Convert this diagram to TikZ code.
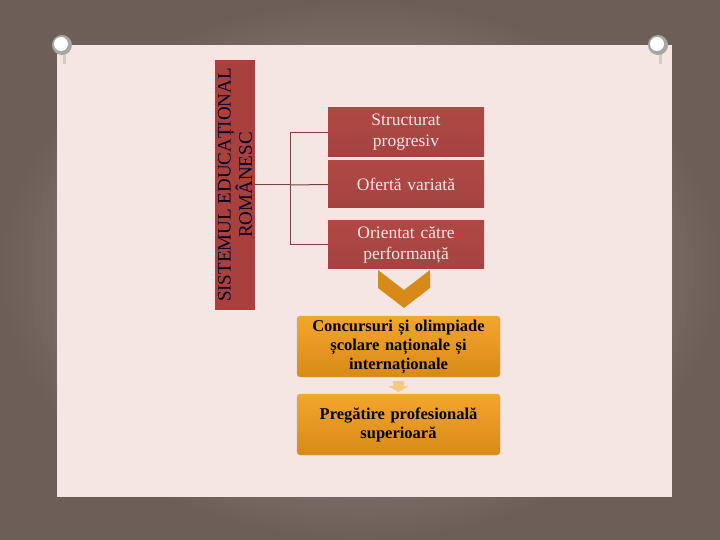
\documentclass[tikz,border=0pt]{standalone}
\usepackage{fontspec}
\setmainfont{Liberation Serif}
\usetikzlibrary{shapes.geometric}
\definecolor{paper}{HTML}{F5E6E4}
\definecolor{frame}{HTML}{6E5E58}
\definecolor{redbox}{HTML}{C0504D}
\definecolor{redtop}{HTML}{B04845}
\definecolor{vbox}{HTML}{A8413E}
\definecolor{line}{HTML}{7A4240}
\definecolor{orangeA}{HTML}{F4A52C}
\definecolor{orangeB}{HTML}{D88A18}
\begin{document}
\begin{tikzpicture}[x=1pt,y=-1pt,
  rbox/.style={draw=none,top color=redtop,bottom color=redbox!85!black,minimum width=156pt,text width=154pt,align=center,text=paper,font=\fontsize{17.5}{21}\selectfont,inner sep=0pt},
  obox/.style={draw=orangeB!70!black!50,rounded corners=3pt,top color=orangeA,bottom color=orangeB,minimum width=203pt,minimum height=61pt,text width=200pt,align=center,font=\bfseries\fontsize{16.5}{19}\selectfont,inner sep=0pt},
  conn/.style={draw=line,line width=1pt}]
\useasboundingbox (0,0) rectangle (720,540);
\shade[inner color=frame!55,outer color=frame] (0,0) rectangle (720,540);
\fill[paper] (57,45) rectangle (672,497);
\foreach \px in {62,658}{
  \fill[gray!40] (\px+1,48) rectangle (\px+4,64);
  \fill[gray!70] (\px,45) circle (10pt);
  \fill[white] (\px-1,44) circle (7pt);
}
\node[fill=vbox,minimum width=40pt,minimum height=250pt,inner sep=0pt] (v) at (235,185) {};
\node[rotate=90,align=center,text=black!85!blue,font=\fontsize{19}{18}\selectfont] at (v.center) {SISTEMUL EDUCAȚIONAL\\ROMÂNESC};
\node[rbox,minimum height=49pt] (b1) at (406,132.5) {Structurat\\progresiv};
\node[rbox,minimum height=47pt] (b2) at (406,184.5) {Ofertă variată};
\node[rbox,minimum height=47pt] (b3) at (406,244.5) {Orientat către\\performanță};
\coordinate (j) at (290,185);
\draw[conn] (v.east |- j) -- (j);
\draw[conn] (b1.west) -| (j);
\draw[conn] (b3.west) -| (j);
\draw[conn] (b2.west) -- (j);
\fill[orangeB] (378,270) -- (404,290) -- (430,270) -- (430,288) -- (404,308) -- (378,288) -- cycle;
\node[obox] (o1) at (398.5,346.5) {Concursuri și olimpiade\\școlare naționale și\\internaționale};
\node[obox] (o2) at (398.5,424.5) {Pregătire profesională\\superioară};
\fill[orangeA!60] (393,381) -- (404,381) -- (404,386) -- (409,386) -- (398.5,392) -- (388,386) -- (393,386) -- cycle;
\end{tikzpicture}
\end{document}
